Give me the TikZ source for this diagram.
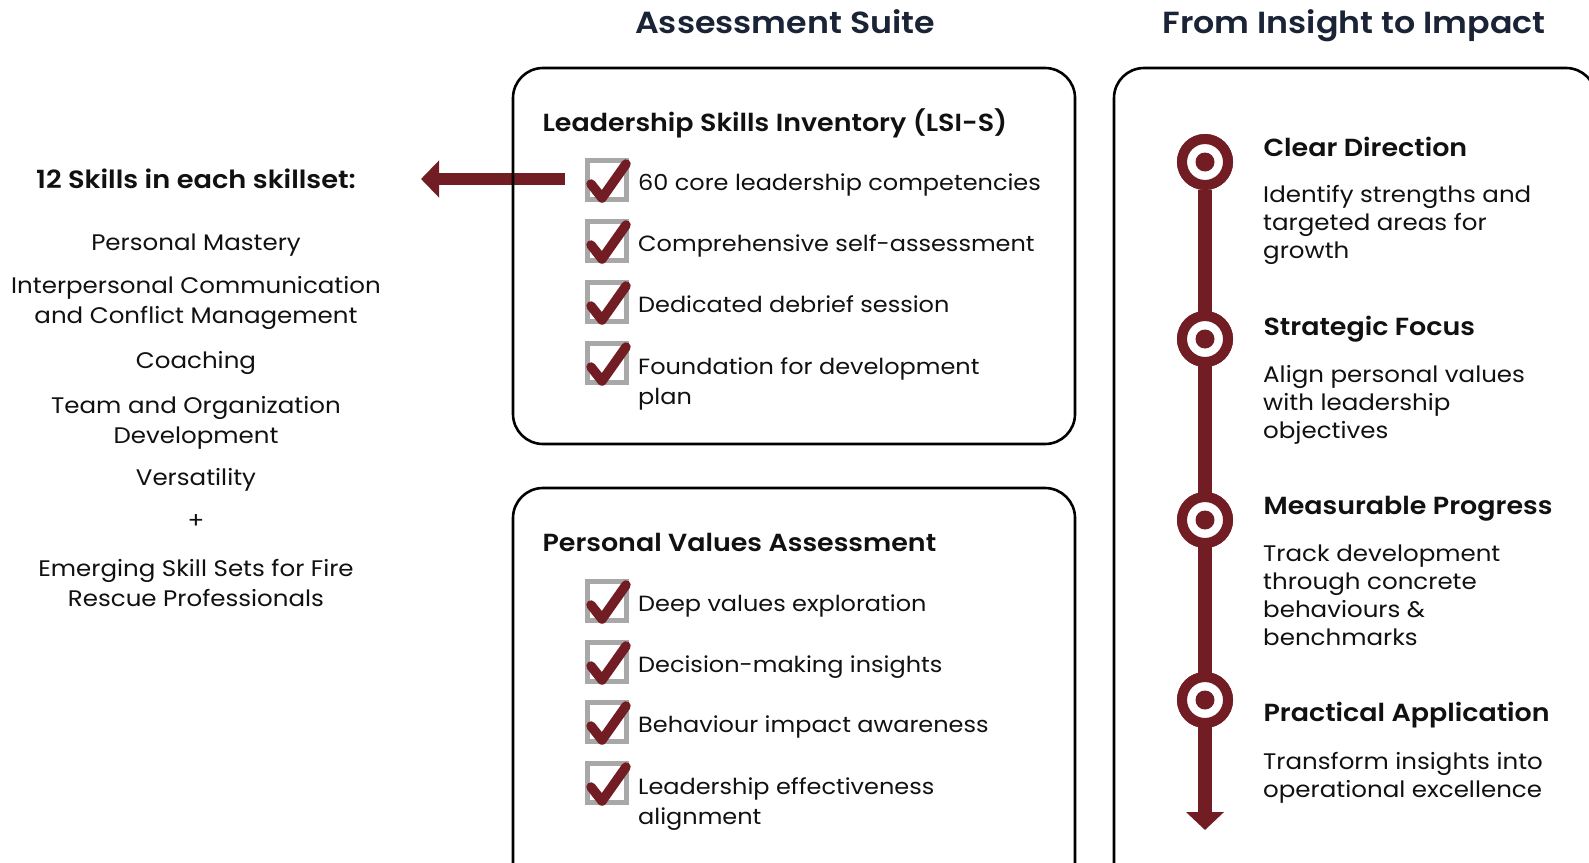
\documentclass[tikz,border=0pt]{standalone}
\usepackage{fontspec}
\setmainfont{Poppins}[FakeStretch=1.09, BoldFont={Poppins SemiBold}]
\usetikzlibrary{arrows.meta}
\definecolor{maroon}{RGB}{114,29,36}
\definecolor{boxgray}{RGB}{168,168,168}
\definecolor{navy}{RGB}{27,36,54}
\definecolor{ink}{RGB}{17,17,17}
\tikzset{
  panel/.style={draw=black, line width=2.6, rounded corners=30},
  title/.style={font=\fontsize{30.5}{36}\selectfont\bfseries, text=navy, anchor=base},
  header/.style={font=\fontsize{24.7}{30}\selectfont\bfseries, text=ink, anchor=base west},
  body/.style={font=\fontsize{22}{29.5}\selectfont, text=ink, anchor=base west, align=left, inner sep=0},
  tbody/.style={font=\fontsize{22.5}{28}\selectfont, text=ink, anchor=base west, align=left, inner sep=0},
  skill/.style={font=\fontsize{22.5}{30}\selectfont, text=ink, anchor=base, align=center, inner sep=0},
  chkbox/.style={draw=boxgray, line width=5, minimum size=39, inner sep=0},
  tick/.style={draw=maroon, line width=9.5, line cap=round, line join=round},
  ring/.style={circle, draw=maroon, fill=white, line width=10, minimum size=46, inner sep=0},
  dot/.style={circle, fill=maroon, minimum size=19, inner sep=0},
  bigarrow/.style={draw=maroon, line width=12.5},
}
\begin{document}
\begin{tikzpicture}[x=1pt,y=-1pt]
\useasboundingbox (0,0) rectangle (1589,862);
\fill[white] (0,0) rectangle (1589,862);

% titles
\node[title] (t1) at (785,33) {Assessment Suite};
\node[title] (t2) at (1354,33) {From Insight to Impact};

% left arrow (under the panel border)
\coordinate (arrS) at (565,179);
\coordinate (arrE) at (421,179);
\draw[bigarrow, -{Triangle[width=36,length=18]}] (arrS) -- (arrE);

% panels
\draw[panel] (513,68) rectangle (1075,444);
\draw[panel] (513,488) rectangle (1075,900);
\draw[panel] (1114,68) rectangle (1596,900);

% left column
\node[font=\fontsize{25}{30}\selectfont\bfseries, text=ink, anchor=base] (sk) at (196,188) {12 Skills in each skillset:};
\node[skill] (s1) at (196,250) {Personal Mastery};
\node[skill] (s2) at (196,323) {Interpersonal Communication\\and Conflict Management};
\node[skill] (s3) at (196,368) {Coaching};
\node[skill] (s4) at (196,443) {Team and Organization\\Development};
\node[skill] (s5) at (196,485) {Versatility};
\node[skill] (s6) at (196,528) {+};
\node[skill] (s7) at (196,606) {Emerging Skill Sets for Fire\\Rescue Professionals};

% LSI panel
\node[header] (h1) at (539,131) {Leadership Skills Inventory (LSI-S)};
\foreach \n/\y/\b/\txt in {1/180/190/{60 core leadership competencies},
                        2/241/251/{Comprehensive self-assessment},
                        3/302/312/{Dedicated debrief session},
                        4/363/404/{Foundation for development\\plan},
                        5/601/611/{Deep values exploration},
                        6/662/672/{Decision-making insights},
                        7/722/732/{Behaviour impact awareness},
                        8/783/824/{Leadership effectiveness\\alignment}}{
  \node[chkbox] (c\n) at (607,\y) {};
  \draw[tick] ([shift={(-16,4)}]c\n.center) -- ([shift={(-5,18)}]c\n.center) -- ([shift={(19,-16)}]c\n.center);
  \node[body] (i\n) at (638,\b) {\txt};
}
\node[header] (h2) at (539,551) {Personal Values Assessment};

% timeline
\coordinate (tip) at (1205,830);
\node[ring] (d1) at (1205,162) {};
\node[ring] (d2) at (1205,339) {};
\node[ring] (d3) at (1205,520) {};
\node[ring] (d4) at (1205,700) {};
\draw[bigarrow, line width=14, -{Triangle[width=37,length=18]}] (d1.south) -- (tip);
\foreach \k in {1,...,4}{
  \node[ring] at (d\k) {};
  \node[dot] at (d\k) {};
}
\node[header] (g1) at (1260,156) {Clear Direction};
\node[tbody] (e1) at (1263,258) {Identify strengths and\\targeted areas for\\growth};
\node[header] (g2) at (1260,335) {Strategic Focus};
\node[tbody] (e2) at (1263,438) {Align personal values\\with leadership\\objectives};
\node[header] (g3) at (1260,514) {Measurable Progress};
\node[tbody] (e3) at (1263,645) {Track development\\through concrete\\behaviours \&\\benchmarks};
\node[header] (g4) at (1260,721) {Practical Application};
\node[tbody] (e4) at (1263,797) {Transform insights into\\operational excellence};
\end{tikzpicture}
\end{document}
